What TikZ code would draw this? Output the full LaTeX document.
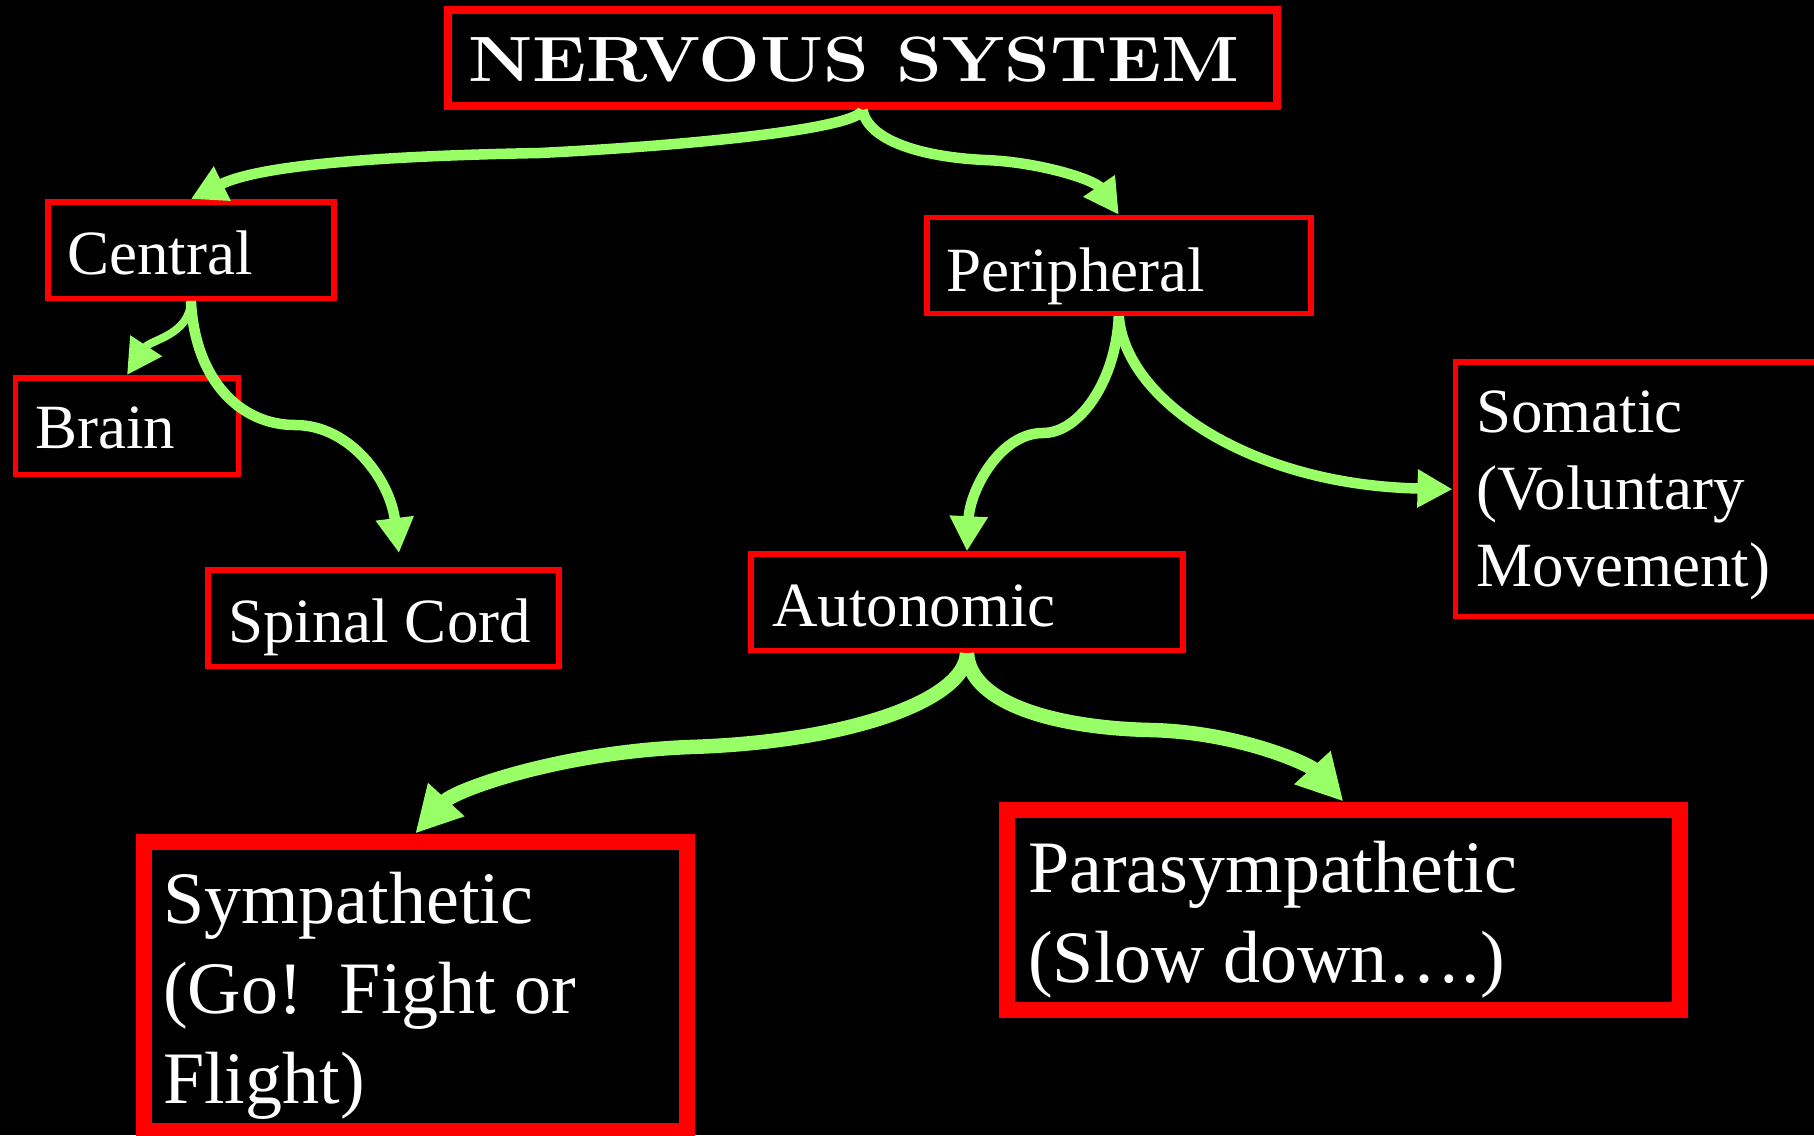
\documentclass[tikz,border=0pt]{standalone}
\usepackage{fontspec}
\usepackage{graphicx}
\newfontfamily\bodyserif{Liberation Serif}
\usetikzlibrary{arrows.meta}
\definecolor{boxred}{RGB}{255,0,0}
\definecolor{linkgreen}{RGB}{153,255,102}

\begin{document}
\begin{tikzpicture}[x=1pt,y=-1pt,
  redbox/.style={draw=boxred, line width=5.5pt, inner sep=0pt},
  heavybox/.style={redbox, line width=16pt},
  boxtext/.style={text=white, anchor=base west, align=left, inner sep=0pt,
    font=\bodyserif\fontsize{63}{77}\selectfont},
  bigtext/.style={boxtext, font=\bodyserif\fontsize{74}{90}\selectfont},
  branch/.style={draw=linkgreen, line width=10.5pt,
    -{Triangle[length=35pt,width=36pt]}},
  bigbranch/.style={draw=linkgreen, line width=14.5pt,
    -{Triangle[length=46pt,width=46pt]}}]

% canvas
\useasboundingbox (0,0) rectangle (1814,1135);
\fill[black] (0,0) rectangle (1814,1135);

% boxes
\node[redbox, line width=8pt, minimum width=829pt, minimum height=96pt] (title) at (862.5,58) {};
\node[redbox, minimum width=286pt, minimum height=96.5pt] (central) at (190.9,250) {};
\node[redbox, minimum width=223pt, minimum height=96.5pt] (brain) at (127,426) {};
\node[redbox, minimum width=351pt, minimum height=96.5pt] (spinal) at (383.25,618) {};
\node[redbox, minimum width=384pt, minimum height=96pt] (peripheral) at (1118.8,265.5) {};
\node[redbox, minimum width=374.7pt, minimum height=254.3pt] (somatic) at (1642.6,489.2) {};
\node[redbox, minimum width=432pt, minimum height=96.5pt] (autonomic) at (967,602.25) {};
\node[heavybox, minimum width=543.5pt, minimum height=289.5pt] (sympathetic) at (415.25,986.25) {};
\node[heavybox, minimum width=673pt, minimum height=200pt] (parasympathetic) at (1343.4,909.5) {};

% texts (multi-line texts are placed by the baseline of their last line)
\node[boxtext] (title-text) at (468,81)
  {\rmfamily\bfseries\fontsize{64}{64}\selectfont\scalebox{1.143}[1]{NERVOUS SYSTEM}};
\node[boxtext] (central-text) at (67,274) {Central};
\node[boxtext] (brain-text) at (35,448) {Brain};
\node[boxtext] (spinal-text) at (228,642) {Spinal Cord};
\node[boxtext] (peripheral-text) at (946,291) {Peripheral};
\node[boxtext] (somatic-text) at (1476,586) {Somatic\\(Voluntary\\Movement)};
\node[boxtext] (autonomic-text) at (772,626) {Autonomic};
\node[bigtext] (sympathetic-text) at (163,1103) {Sympathetic\\(Go!\ \ Fight or\\Flight)};
\node[bigtext] (parasympathetic-text) at (1028,982) {Parasympathetic\\(Slow down\dots.)};

% connectors
\coordinate (spinal-tip) at (399,553);
\draw[branch] (title.south) .. controls (858,128) and (700,145) .. (540,153)
  .. controls (380,156) and (260,165) .. (central.north);
\draw[branch] (title.south) .. controls (868,140) and (920,157) .. (985,160)
  .. controls (1040,162) and (1095,180) .. (peripheral.north);
\draw[branch, line width=8pt] (central.south) .. controls (190,335) and (150,340) .. (brain.north);
\draw[branch] (central.south) .. controls (195,380) and (240,425) .. (295,425)
  .. controls (350,425) and (390,480) .. (spinal-tip);
\draw[branch] (peripheral.south) .. controls (1116,380) and (1080,433) .. (1043,433)
  .. controls (1000,433) and (970,490) .. (autonomic.north);
\draw[branch] (peripheral.south) .. controls (1125,400) and (1250,485) .. (somatic.west);
\draw[bigbranch] (autonomic.south) .. controls (965,700) and (850,742) .. (690,747)
  .. controls (560,752) and (455,790) .. (sympathetic.north);
\draw[bigbranch] (autonomic.south) .. controls (970,705) and (1060,728) .. (1150,730)
  .. controls (1240,732) and (1310,765) .. (parasympathetic.north);
\end{tikzpicture}
\end{document}
